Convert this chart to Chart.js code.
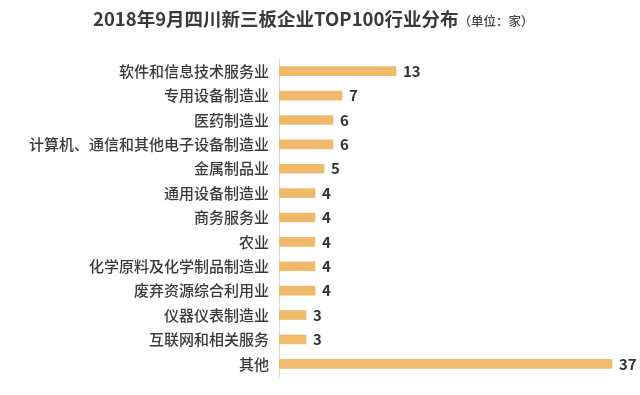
<!DOCTYPE html>
<html>
<head>
<meta charset="utf-8">
<script src="https://cdn.jsdelivr.net/npm/chart.js@4"></script>
<style>
  body { margin: 0; background: #fff; }
  #wrap { position: relative; width: 640px; height: 395px; }
  #titulo {
    position: absolute; left: 93px; top: 5px;
    font-family: "Noto Sans CJK SC", sans-serif; font-weight: bold;
    font-size: 18.5px; color: #3a3a3a; white-space: nowrap;
  }
  #titulo span { font-size: 12.5px; font-weight: 500; color: #444; }
</style>
</head>
<body>
<div id="wrap">
  <canvas id="graficoSetores" width="640" height="395"></canvas>
  <div id="titulo">2018年9月四川新三板企业TOP100行业分布<span>（单位：家）</span></div>
</div>
<script>
const setores = ['软件和信息技术服务业', '专用设备制造业', '医药制造业', '计算机、通信和其他电子设备制造业',
  '金属制品业', '通用设备制造业', '商务服务业', '农业', '化学原料及化学制品制造业',
  '废弃资源综合利用业', '仪器仪表制造业', '互联网和相关服务', '其他'];
const empresas = [13, 7, 6, 6, 5, 4, 4, 4, 4, 4, 3, 3, 37];

// escreve o numero depois de cada barra
const rotulos = {
  id: 'rotulos',
  afterDatasetsDraw(chart) {
    const ctx = chart.ctx;
    ctx.save();
    ctx.font = 'bold 15px "Noto Sans CJK SC", sans-serif';
    ctx.fillStyle = '#333';
    ctx.textAlign = 'left';
    ctx.textBaseline = 'middle';
    chart.getDatasetMeta(0).data.forEach((bar, i) => {
      ctx.fillText(empresas[i], bar.x + 7, bar.y);
    });
    ctx.restore();
  }
};

const ctx = document.getElementById('graficoSetores').getContext('2d');
const grafico = new Chart(ctx, {
    type: 'bar',
    data: {
        labels: setores,
        datasets: [{
            data: empresas,
            backgroundColor: 'rgb(240, 186, 108)',
            barThickness: 9
        }]
    },
    options: {
        responsive: false,
        animation: false,
        indexAxis: 'y',
        layout: { padding: { top: 59, bottom: 15, left: 0, right: 1 } },
        plugins: { legend: { display: false }, tooltip: { enabled: false } },
        scales: {
            x: { display: false, min: 0, max: 40 },
            y: {
                afterFit: (scale) => { scale.width = 279; },
                grid: { display: false, drawTicks: false },
                border: { display: true, color: '#d9d9d9', width: 1 },
                ticks: {
                    padding: 10,
                    color: '#3a3a3a',
                    font: { family: '"Noto Sans CJK SC", sans-serif', size: 15, weight: '500' }
                }
            }
        }
    },
    plugins: [rotulos]
});
</script>
</body>
</html>
